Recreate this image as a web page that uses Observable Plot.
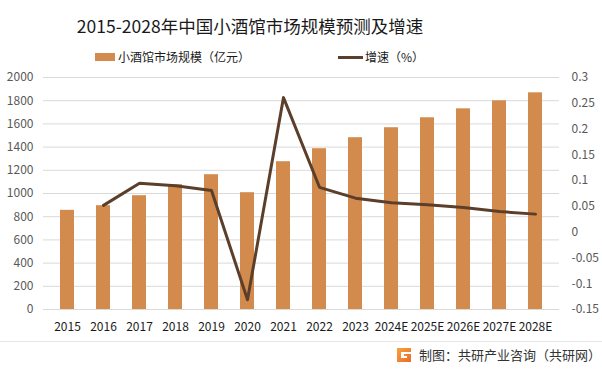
<!DOCTYPE html>
<html>
<head>
<meta charset="utf-8">
<script src="https://cdn.jsdelivr.net/npm/d3@7"></script>
<script src="https://cdn.jsdelivr.net/npm/@observablehq/plot@0.6"></script>
<style>
  html, body { margin: 0; padding: 0; background: #fff; }
  body { width: 602px; height: 374px; position: relative; overflow: hidden;
         font-family: "Noto Sans CJK SC", "Noto Sans", sans-serif; }
  #title { position: absolute; left: 0; width: 500px; top: 14px; text-align: center;
           font-size: 17.5px; color: #1a1a1a; line-height: 24px; }
  .leg { position: absolute; top: 49px; font-size: 12px; color: #1a1a1a; line-height: 16px;
         display: flex; align-items: center; }
  .sw-bar { width: 20px; height: 8px; background: #d38b4d; margin-right: 3px; }
  .sw-line { width: 25px; height: 3px; background: #5c3f2b; margin-right: 2px; }
  #chart { position: absolute; left: 0; top: 60px; }
  #sep { position: absolute; left: 0; width: 602px; top: 341px; height: 1px; background: #e6e6e6; }
  #footer { position: absolute; left: 397px; top: 346px; display: flex; align-items: center;
            font-size: 13px; color: #333; line-height: 18px; }
  #footer svg { margin-right: 8px; }
</style>
</head>
<body>
<div id="title">2015-2028年中国小酒馆市场规模预测及增速</div>
<div class="leg" style="left:95px"><div class="sw-bar"></div>小酒馆市场规模（亿元）</div>
<div class="leg" style="left:338px"><div class="sw-line"></div>增速（%）</div>
<div id="chart"></div>
<div id="sep"></div>
<div id="footer">
  <svg width="14" height="14" viewBox="0 0 14 14">
    <defs><linearGradient id="lg" x1="0" y1="0" x2="1" y2="1">
      <stop offset="0" stop-color="#f7a23b"/><stop offset="1" stop-color="#ec6b2d"/></linearGradient></defs>
    <path d="M0 0H14V4H4V10H10V8H7V6H14V14H0Z" fill="url(#lg)"/>
  </svg>
  <span>制图：共研产业咨询（共研网）</span>
</div>
<script>
const years = ["2015","2016","2017","2018","2019","2020","2021","2022","2023","2024E","2025E","2026E","2027E","2028E"];
const marketSize = [855, 895, 981, 1076, 1162, 1007, 1274, 1386, 1481, 1567, 1653, 1730, 1799, 1868];
const growth = [null, 0.052, 0.095, 0.090, 0.081, -0.131, 0.261, 0.087, 0.066, 0.057, 0.053, 0.048, 0.040, 0.035];
const leftTicks = [0, 200, 400, 600, 800, 1000, 1200, 1400, 1600, 1800, 2000];
const rightTicks = [-0.15, -0.1, -0.05, 0, 0.05, 0.1, 0.15, 0.2, 0.25, 0.3];

const leftMax = 2000, rMin = -0.15, rMax = 0.3;
const toLeft = g => (g - rMin) / (rMax - rMin) * leftMax;
const fromLeft = v => +(v / leftMax * (rMax - rMin) + rMin).toFixed(2);

const bars = years.map((y, i) => ({year: y, size: marketSize[i]}));
const line = years.map((y, i) => ({year: y, g: growth[i]})).filter(d => d.g != null);

const chart = Plot.plot({
  width: 602,
  height: 280,
  marginTop: 17,
  marginBottom: 31,
  marginLeft: 43,
  marginRight: 43,
  style: {fontFamily: '"Noto Sans CJK SC", "Noto Sans", sans-serif', fontSize: "12px", background: "transparent"},
  x: {domain: years, paddingInner: 0.62, paddingOuter: 0.31, label: null},
  y: {domain: [0, leftMax], label: null},
  marks: [
    Plot.gridY(leftTicks, {stroke: "#d9d9d9", strokeOpacity: 1, strokeWidth: 1}),
    Plot.barY(bars, {x: "year", y: "size", fill: "#d38b4d"}),
    Plot.line(line, {x: "year", y: d => toLeft(d.g), stroke: "#5c3f2b", strokeWidth: 3, curve: "linear"}),
    Plot.axisY(leftTicks, {anchor: "left", tickSize: 0, tickPadding: 10, fill: "#595959", fontSize: 12, label: null,
      tickFormat: v => String(v)}),
    Plot.axisY(rightTicks.map(toLeft), {anchor: "right", tickSize: 0, tickPadding: 12, fill: "#595959", fontSize: 12,
      tickFormat: v => String(fromLeft(v)), label: null}),
    Plot.axisX({anchor: "bottom", tickSize: 0, tickPadding: 13, fill: "#1a1a1a", fontSize: 12, label: null})
  ]
});
document.getElementById("chart").appendChild(chart);
</script>
</body>
</html>
